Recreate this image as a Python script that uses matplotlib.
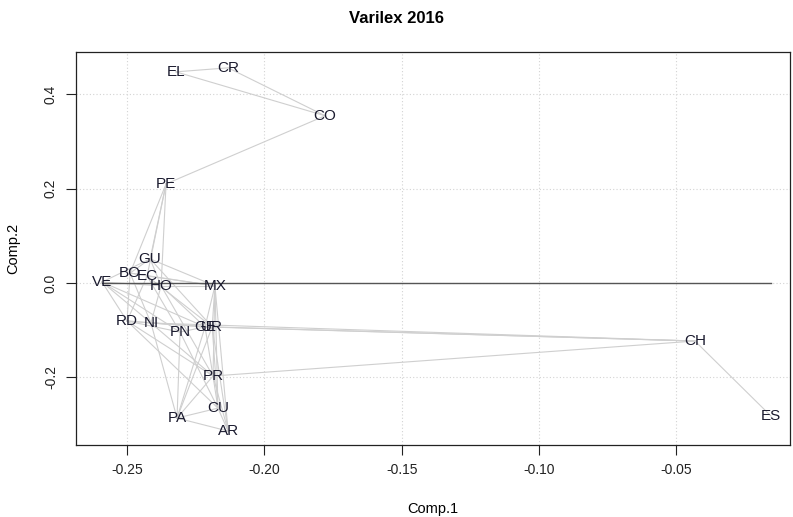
import matplotlib
matplotlib.use("Agg")
import matplotlib.pyplot as plt

plt.rcParams['font.family'] = ['Liberation Sans', 'DejaVu Sans']

# country codes and their coordinates on the first two components
labels = ["CR", "EL", "CO", "PE", "GU", "BO", "EC", "VE", "HO", "MX", "RD", "NI",
          "PN", "GE", "UR", "CH", "ES", "PR", "CU", "PA", "AR"]
comp1 = [-0.2132, -0.2322, -0.1779, -0.2358, -0.2416, -0.2489, -0.2427, -0.2591,
         -0.2376, -0.2180, -0.2500, -0.2413, -0.2307, -0.2216, -0.2190, -0.0432,
         -0.0155, -0.2187, -0.2169, -0.2318, -0.2132]
comp2 = [0.4555, 0.4470, 0.3540, 0.2097, 0.0510, 0.0210, 0.0148, 0.0020,
         -0.0060, -0.0060, -0.0805, -0.0847, -0.1040, -0.0930, -0.0930, -0.1229,
         -0.2818, -0.1970, -0.2650, -0.2860, -0.3136]

# links between similar varieties
edges = [("EL", "CR"), ("EL", "CO"), ("CR", "CO"), ("CO", "PE"),
         ("PE", "GU"), ("PE", "BO"), ("PE", "EC"), ("PE", "HO"),
         ("GU", "MX"), ("GU", "VE"), ("GU", "HO"), ("GU", "BO"), ("GU", "UR"),
         ("VE", "HO"), ("VE", "RD"), ("VE", "NI"), ("VE", "GE"), ("VE", "PN"),
         ("BO", "EC"), ("BO", "MX"), ("BO", "RD"), ("BO", "NI"),
         ("EC", "MX"), ("EC", "RD"), ("EC", "UR"), ("EC", "PN"),
         ("HO", "MX"), ("HO", "NI"), ("HO", "GE"), ("HO", "PR"),
         ("MX", "GE"), ("MX", "UR"), ("MX", "PR"), ("MX", "CU"), ("MX", "AR"),
         ("RD", "NI"), ("RD", "GE"), ("RD", "PN"), ("RD", "CU"), ("RD", "PR"),
         ("NI", "UR"), ("NI", "PA"), ("NI", "CH"), ("NI", "GE"), ("NI", "PR"),
         ("PN", "GE"), ("PN", "PA"), ("PN", "CU"),
         ("GE", "UR"), ("GE", "CH"), ("UR", "CH"), ("GE", "PR"), ("UR", "CU"),
         ("UR", "AR"), ("GE", "PA"), ("UR", "PA"),
         ("PR", "CH"), ("PR", "CU"), ("PR", "PA"), ("PR", "AR"),
         ("CU", "PA"), ("CU", "AR"), ("PA", "AR"), ("CH", "ES")]

xticks = [-0.25, -0.20, -0.15, -0.10, -0.05]
yticks = [-0.2, 0.0, 0.2, 0.4]

pos = {lab: (x, y) for lab, x, y in zip(labels, comp1, comp2)}

fig = plt.figure(figsize=(7.93, 5.17), dpi=100)
ax = fig.add_axes([0.0958, 0.1393, 0.9004, 0.7601])

ax.set_xlim(-0.2686, -0.0086)
ax.set_ylim(-0.343, 0.489)

# R style dotted grid
for xt in xticks:
    ax.axvline(xt, color='#d3d3d3', linestyle=(0, (1, 2)), linewidth=0.8, zorder=0)
for yt in yticks:
    ax.axhline(yt, color='#d3d3d3', linestyle=(0, (1, 2)), linewidth=0.8, zorder=0)

for a, b in edges:
    ax.plot([pos[a][0], pos[b][0]], [pos[a][1], pos[b][1]],
            color='#cfcfcf', linewidth=0.8, zorder=1)

ax.plot([min(comp1), max(comp1)], [0, 0], color='#555555', linewidth=1.0, zorder=2)

for lab, x, y in zip(labels, comp1, comp2):
    ax.text(x, y, lab, ha='center', va='center', fontsize=11,
            color='#1a1a2e', zorder=3)

ax.set_xticks(xticks)
ax.set_xticklabels([f"{t:.2f}" for t in xticks])
ax.set_yticks(yticks)
ax.set_yticklabels([f"{t:.1f}" for t in yticks], rotation=90, va='center')
ax.tick_params(direction='out', length=7, width=0.8, labelsize=10, pad=6,
               colors='#222222')

for s in ax.spines.values():
    s.set_color('#222222')
    s.set_linewidth(0.9)

ax.set_xlabel("Comp.1", fontsize=10.5, labelpad=18)
ax.set_ylabel("Comp.2", fontsize=10.5, labelpad=17)
fig.text(0.5, 0.965, "Varilex 2016", ha='center', va='center',
         fontsize=12, fontweight='bold')

fig.savefig("out.png", dpi=100)
